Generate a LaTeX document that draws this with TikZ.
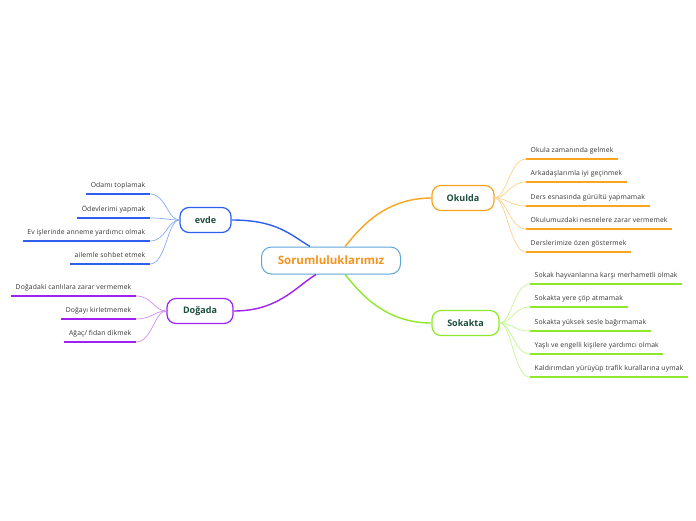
\documentclass[tikz,border=0pt]{standalone}
\usepackage{fontspec}
\setmainfont{Open Sans}
\newfontfamily\leaffont[LetterSpace=2]{Open Sans}
\definecolor{cblue}{HTML}{5DA5DA}
\definecolor{corange}{HTML}{F7931E}
\definecolor{tgreen}{HTML}{1B4D3E}
\definecolor{evb}{HTML}{2F5FEE}
\definecolor{evbl}{HTML}{8AAAF8}
\definecolor{dgp}{HTML}{A020F0}
\definecolor{dgpl}{HTML}{CF8FF2}
\definecolor{okor}{HTML}{FBA41F}
\definecolor{okorl}{HTML}{FFD08A}
\definecolor{skg}{HTML}{8FE82C}
\definecolor{skgl}{HTML}{C4F590}
\definecolor{txt}{HTML}{333333}
\tikzset{
  centre/.style={draw=cblue,line width=1pt,rounded corners=10pt,fill=white,
    text=corange,font=\fontsize{11.5}{14}\selectfont\bfseries,minimum width=139pt,minimum height=27pt,inner sep=0pt},
  topic/.style={draw=#1,line width=1.2pt,rounded corners=9pt,fill=white,
    text=tgreen,font=\fontsize{9}{11}\selectfont\bfseries,minimum height=25pt,inner xsep=13pt,inner ysep=0pt},
  leaf/.style={text=txt,font=\leaffont\fontsize{6.8}{8}\selectfont,inner xsep=4.5pt,inner ysep=4pt,text height=5pt,text depth=2pt},
  uline/.style={line width=1.6pt,draw=#1},
  twig/.style={line width=0.7pt,draw=#1},
  branch/.style={line width=1.4pt,draw=#1},
}
\begin{document}
\begin{tikzpicture}[x=1pt,y=-1pt]
\useasboundingbox (0,0) rectangle (696,520);
% central
\node[centre] (c) at (331,260.5) {Sorumluluklarımız};
\node[topic=evb,minimum width=51pt] (ev) at (205.5,220) {evde};
\node[topic=dgp,minimum width=66pt] (dg) at (200,311) {Doğada};
\node[topic=okor,minimum width=62pt] (ok) at (463,198) {Okulda};
\node[topic=skg,minimum width=67pt] (sk) at (465.5,323) {Sokakta};
% main branches
\coordinate (cev) at ([xshift=-21pt]c.north);
\coordinate (cdg) at ([xshift=-15pt]c.south);
\coordinate (cok) at ([xshift=14pt]c.north);
\coordinate (csk) at ([xshift=14pt]c.south);
\draw[branch=evb] (ev.east) .. controls +(45,0) and +(-20,-12) .. (cev);
\draw[branch=dgp] (dg.east) .. controls +(45,0) and +(-20,12) .. (cdg);
\draw[branch=okor] (ok.west) .. controls +(-50,0) and +(12,-14) .. (cok);
\draw[branch=skg] (sk.west) .. controls +(-50,0) and +(12,14) .. (csk);
% evde leaves
\node[leaf,anchor=south east] (e1) at (150,194) {Odamı toplamak};
\node[leaf,anchor=south east] (e2) at (150,218) {Ödevlerimi yapmak};
\node[leaf,anchor=south east] (e3) at (150,241) {Ev işlerinde anneme yardımcı olmak};
\node[leaf,anchor=south east] (e4) at (150,264) {ailemle sohbet etmek};
\foreach \n in {e1,e2,e3,e4}{
  \draw[uline=evb] (\n.south west) -- (\n.south east);
  \draw[twig=evbl] (\n.south east) .. controls +(16,0) and +(-12,0) .. (ev.west);
}
% Doğada leaves
\node[leaf,anchor=south east] (d1) at (136,296) {Doğadaki canlılara zarar vermemek};
\node[leaf,anchor=south east] (d2) at (136,319) {Doğayı kirletmemek};
\node[leaf,anchor=south east] (d3) at (136,342) {Ağaç/ fidan dikmek};
\foreach \n in {d1,d2,d3}{
  \draw[uline=dgp] (\n.south west) -- (\n.south east);
  \draw[twig=dgpl] (\n.south east) .. controls +(16,0) and +(-12,0) .. (dg.west);
}
% Okulda leaves
\node[leaf,anchor=south west] (o1) at (526,159) {Okula zamanında gelmek};
\node[leaf,anchor=south west] (o2) at (526,182) {Arkadaşlarımla iyi geçinmek};
\node[leaf,anchor=south west] (o3) at (526,206) {Ders esnasında gürültü yapmamak};
\node[leaf,anchor=south west] (o4) at (526,229) {Okulumuzdaki nesnelere zarar vermemek};
\node[leaf,anchor=south west] (o5) at (526,252) {Derslerimize özen göstermek};
\foreach \n in {o1,o2,o3,o4,o5}{
  \draw[uline=okor] (\n.south west) -- (\n.south east);
  \draw[twig=okorl] (\n.south west) .. controls +(-16,0) and +(12,0) .. (ok.east);
}
% Sokakta leaves
\node[leaf,anchor=south west] (s1) at (530,284) {Sokak hayvanlarına karşı merhametli olmak};
\node[leaf,anchor=south west] (s2) at (530,307) {Sokakta yere çöp atmamak};
\node[leaf,anchor=south west] (s3) at (530,331) {Sokakta yüksek sesle bağırmamak};
\node[leaf,anchor=south west] (s4) at (530,354) {Yaşlı  ve engelli kişilere yardımcı olmak};
\node[leaf,anchor=south west] (s5) at (530,377) {Kaldırımdan yürüyüp trafik kurallarına uymak};
\foreach \n in {s1,s2,s3,s4,s5}{
  \draw[uline=skg] (\n.south west) -- (\n.south east);
  \draw[twig=skgl] (\n.south west) .. controls +(-16,0) and +(12,0) .. (sk.east);
}
\end{tikzpicture}
\end{document}
